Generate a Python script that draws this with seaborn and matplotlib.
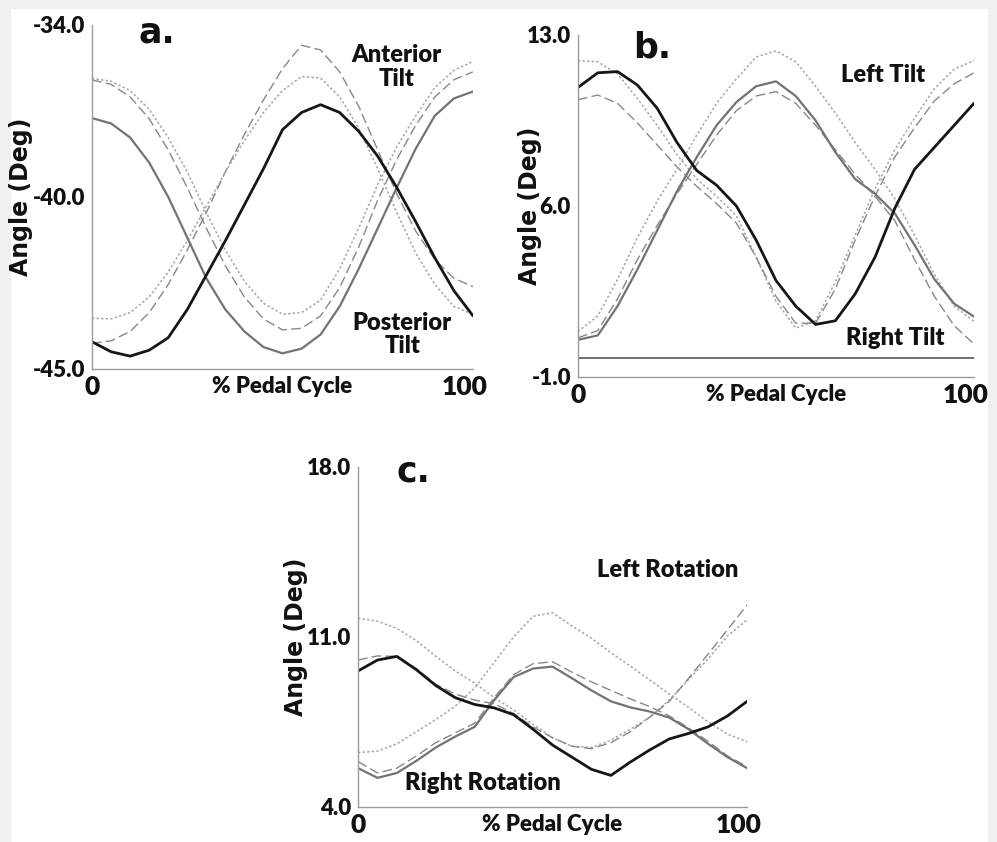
import numpy as np
import matplotlib
matplotlib.use('Agg')
import matplotlib.pyplot as plt
import matplotlib.transforms as mtransforms
import seaborn as sns
from matplotlib.patches import Rectangle

# =========================
# Data
# =========================

pct = list(range(0, 101, 5))

# a. anterior / posterior tilt
a_black = [-44.13, -44.45, -44.59, -44.4, -44.0, -43.1, -42.0, -40.9, -39.75, -38.6, -37.35,
           -36.8, -36.55, -36.8, -37.4, -38.2, -39.2, -40.3, -41.45, -42.5, -43.3]
a_gray = [-36.98, -37.15, -37.6, -38.4, -39.5, -40.8, -42.1, -43.1, -43.8, -44.3, -44.5,
          -44.35, -43.9, -43.0, -41.8, -40.5, -39.2, -37.95, -36.9, -36.35, -36.13]
a_hi_dot = [-35.71, -35.8, -36.1, -36.7, -37.6, -38.7, -40.0, -41.2, -42.2, -42.9, -43.25,
            -43.2, -42.8, -41.8, -40.5, -39.1, -37.9, -36.9, -36.0, -35.45, -35.17]
a_hi_dash = [-35.76, -35.9, -36.3, -37.0, -38.0, -39.2, -40.5, -41.7, -42.7, -43.4, -43.75,
             -43.7, -43.3, -42.4, -41.1, -39.6, -38.3, -37.2, -36.3, -35.75, -35.5]
a_lo_dash = [-44.18, -44.1, -43.8, -43.2, -42.3, -41.2, -40.0, -38.7, -37.5, -36.4, -35.4,
             -34.65, -34.8, -35.5, -36.6, -38.0, -39.4, -40.6, -41.5, -42.1, -42.37]
a_lo_dot = [-43.38, -43.4, -43.2, -42.7, -41.9, -40.9, -39.8, -38.7, -37.7, -36.8, -36.1,
            -35.65, -35.7, -36.3, -37.3, -38.6, -40.0, -41.3, -42.3, -43.0, -43.25]

# b. left / right tilt
b_black = [10.85, 11.45, 11.5, 10.95, 10.0, 8.6, 7.45, 6.85, 6.0, 4.6, 2.95,
           1.9, 1.15, 1.3, 2.4, 3.9, 5.9, 7.5, 8.4, 9.3, 10.2]
b_gray = [0.52, 0.7, 1.9, 3.4, 5.0, 6.6, 8.0, 9.3, 10.25, 10.9, 11.1,
          10.5, 9.5, 8.2, 7.1, 6.5, 5.7, 4.4, 3.0, 2.0, 1.47]
b_hi_dot = [11.95, 11.9, 11.4, 10.4, 9.3, 8.1, 7.1, 6.4, 5.6, 3.9, 2.1,
            1.0, 1.3, 2.9, 4.8, 6.7, 8.3, 9.6, 10.8, 11.6, 11.95]
b_hi_dash = [10.35, 10.54, 10.2, 9.4, 8.5, 7.6, 6.8, 6.1, 5.3, 3.9, 2.3,
             1.2, 1.2, 2.6, 4.6, 6.4, 8.0, 9.2, 10.3, 11.0, 11.45]
b_lo_dot = [0.86, 1.5, 3.0, 4.7, 6.2, 7.5, 8.9, 10.2, 11.2, 12.1, 12.35,
            11.9, 10.9, 9.8, 8.6, 7.5, 6.3, 4.8, 3.2, 1.9, 1.27]
b_lo_dash = [0.6, 0.9, 2.2, 3.8, 5.2, 6.5, 7.7, 8.9, 9.9, 10.5, 10.68,
             10.2, 9.3, 8.3, 7.3, 6.4, 5.4, 3.8, 2.3, 1.1, 0.35]
b_ref_level = -0.24

# c. left / right rotation
c_black = [9.6, 10.05, 10.2, 9.65, 9.0, 8.5, 8.22, 8.08, 7.8, 7.2, 6.55,
           6.05, 5.55, 5.3, 5.85, 6.35, 6.8, 7.03, 7.3, 7.75, 8.35]
c_gray = [5.6, 5.2, 5.4, 5.9, 6.45, 6.9, 7.3, 8.4, 9.35, 9.7, 9.78,
          9.3, 8.8, 8.35, 8.1, 7.93, 7.68, 7.2, 6.6, 6.05, 5.6]
c_gray_dash = [5.87, 5.4, 5.6, 6.1, 6.65, 7.05, 7.45, 8.5, 9.45, 9.9, 9.98,
               9.55, 9.15, 8.8, 8.45, 8.13, 7.75, 7.25, 6.7, 6.1, 5.66]
c_hi_dot = [11.77, 11.65, 11.35, 10.85, 10.2, 9.6, 9.1, 8.5, 8.0, 7.4, 6.85,
            6.5, 6.45, 6.75, 7.2, 7.7, 8.4, 9.25, 10.1, 11.05, 11.7]
c_hi_dash = [10.05, 10.22, 10.2, 9.7, 9.05, 8.65, 8.4, 8.25, 7.85, 7.3, 6.85,
             6.5, 6.4, 6.65, 7.1, 7.7, 8.35, 9.3, 10.3, 11.3, 12.32]
c_lo_dot = [6.24, 6.3, 6.6, 7.1, 7.6, 8.15, 8.9, 9.95, 11.0, 11.85, 12.0,
            11.45, 10.95, 10.35, 9.8, 9.23, 8.65, 8.1, 7.5, 7.0, 6.69]

a_yticklabels = ['-45.0', '', '-40.0', '', '-34.0']
b_yticklabels = ['-1.0', '', '6.0', '', '13.0']
c_yticklabels = ['4.0', '', '11.0', '', '18.0']
xticks = [0, 25, 50, 75, 100]
xticklabels = ['0', '', '', '', '100']

# =========================
# Styles
# =========================

NARROW = ['Lato', 'DejaVu Sans']
WIDE = ['DejaVu Sans']
SPINE = '#9a9a9a'
INK = '#111111'

estilos = {
    'black': dict(color='#161616', linewidth=2.0, linestyle='-'),
    'gray': dict(color='#737373', linewidth=1.6, linestyle='-'),
    'dash': dict(color='#888888', linewidth=1.0, linestyle=(0, (7, 3))),
    'dot': dict(color='#a4a4a4', linewidth=1.1, linestyle=(0, (1.5, 1.5))),
}

sns.set_style('white')
plt.rcParams['font.family'] = NARROW

fig = plt.figure(figsize=(9.97, 8.42), dpi=100, facecolor='#f0f0f0')
fig.patches.append(Rectangle((11 / 997, 0), 977 / 997, 1 - 9 / 842, transform=fig.transFigure,
                             facecolor='white', edgecolor='none', zorder=-10))

# o rótulo "100" fica um pouco à esquerda do tick no original
desloca_100 = mtransforms.ScaledTranslation(-0.08, 0, fig.dpi_scale_trans)


def painel(rect, linhas, ylim, yticklabels, letra, letra_pos, ylabel_x, textos):
    ax = fig.add_axes(rect)
    ax.set_facecolor('white')
    for nome, vals in linhas:
        sns.lineplot(x=pct, y=vals, ax=ax, **estilos[nome])
    ax.set_xlim(0, 100)
    ax.set_ylim(*ylim)
    ax.set_yticks(np.linspace(ylim[0], ylim[1], 5))
    ax.set_yticklabels(yticklabels)
    ax.set_xticks(xticks)
    ax.set_xticklabels(xticklabels)
    ax.tick_params(axis='y', direction='out', length=4, width=1, color=SPINE, pad=1,
                   labelsize=16, labelcolor=INK)
    ax.tick_params(axis='x', direction='in', length=4, width=1, color=SPINE, pad=4,
                   labelsize=19, labelcolor=INK)
    for lbl in ax.get_yticklabels() + ax.get_xticklabels():
        lbl.set_fontweight('heavy')
        lbl.set_family(NARROW)
    ultimo = ax.get_xticklabels()[-1]
    ultimo.set_transform(ultimo.get_transform() + desloca_100)
    sns.despine(ax=ax)
    for s in ['left', 'bottom']:
        ax.spines[s].set_color(SPINE)
        ax.spines[s].set_linewidth(1)
    ax.set_xlabel('% Pedal Cycle', fontsize=16, fontweight='heavy', family=NARROW, va='top',
                  color=INK)
    ax.xaxis.set_label_coords(0.5, -0.02)
    ax.set_ylabel('Angle (Deg)', fontsize=17, fontweight='bold', family=WIDE, color=INK)
    ax.yaxis.set_label_coords(ylabel_x, 0.5)
    ax.text(letra_pos[0], letra_pos[1], letra, transform=ax.transAxes, fontsize=25,
            fontweight='bold', family=WIDE, ha='left', va='baseline', color=INK)
    for tx, x, y in textos:
        ax.text(x, y, tx, transform=ax.transAxes, ha='center', va='center', fontsize=17,
                fontweight='heavy', family=NARROW, color=INK, linespacing=1.1)
    return ax


ax_a = painel([0.0923, 0.5618, 0.3821, 0.4086],
              [('dot', a_hi_dot), ('dash', a_hi_dash), ('dash', a_lo_dash), ('dot', a_lo_dot),
               ('gray', a_gray), ('black', a_black)],
              (-45.0, -34.0), a_yticklabels, 'a.', (0.122, 0.95), -0.155,
              [('Anterior\nTilt', 0.80, 0.878), ('Posterior\nTilt', 0.814, 0.10)])

ax_b = painel([0.5797, 0.5523, 0.3972, 0.4062],
              [('dot', b_hi_dot), ('dash', b_hi_dash), ('dot', b_lo_dot), ('dash', b_lo_dash),
               ('gray', b_gray), ('black', b_black)],
              (-1.0, 13.0), b_yticklabels, 'b.', (0.14, 0.933), -0.09,
              [('Left Tilt', 0.77, 0.883), ('Right Tilt', 0.80, 0.114)])
ax_b.axhline(b_ref_level, color='#555555', linewidth=1.2)

ax_c = painel([0.3591, 0.0416, 0.3902, 0.4038],
              [('dot', c_hi_dot), ('dash', c_hi_dash), ('dot', c_lo_dot), ('dash', c_gray_dash),
               ('gray', c_gray), ('black', c_black)],
              (4.0, 18.0), c_yticklabels, 'c.', (0.1, 0.956), -0.128,
              [('Left Rotation', 0.795, 0.697), ('Right Rotation', 0.322, 0.07)])

fig.savefig('out.png', dpi=100, facecolor=fig.get_facecolor())
